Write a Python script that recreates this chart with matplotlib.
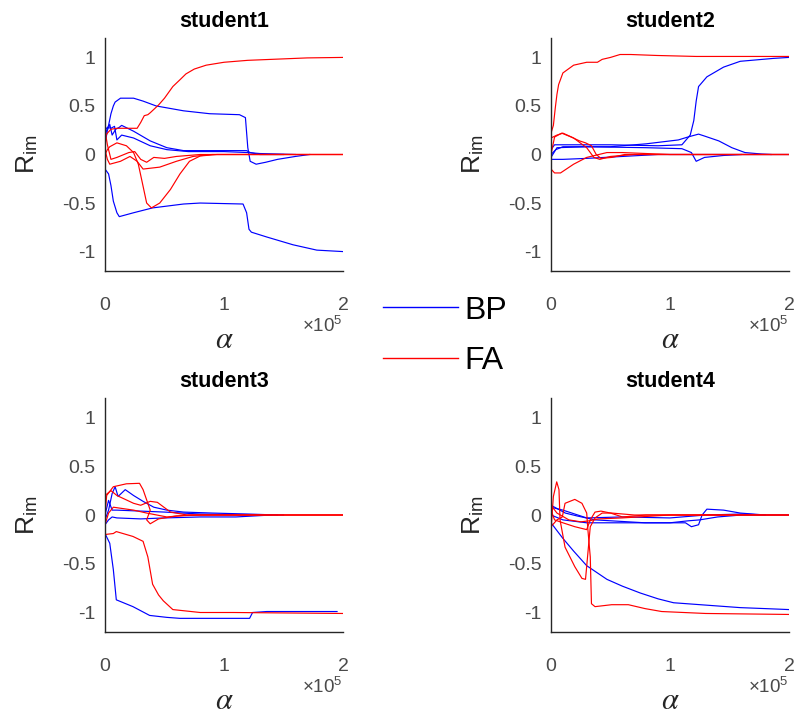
import matplotlib
matplotlib.use("Agg")
import matplotlib.pyplot as plt
from matplotlib.ticker import FuncFormatter, FixedLocator
from matplotlib.lines import Line2D

plt.rcParams['font.family'] = ['Liberation Sans', 'DejaVu Sans']
plt.rcParams['mathtext.fontset'] = 'stix'

ALPHA_UNIT = 1e5  # x values below are given in units of 1e5
titles = ['student1', 'student2', 'student3', 'student4']
legend_labels = ['BP', 'FA']
x_ticks = [0, 1, 2]
y_ticks = [-1, -0.5, 0, 0.5, 1]
y_tick_labels = ['-1', '-0.5', '0', '0.5', '1']

# ---------------- student1 ----------------
s1_bp_x = [
    [0, 0.03, 0.05, 0.07, 0.085, 0.13, 0.24, 0.32, 0.43, 0.66, 0.88, 1.13, 1.18, 1.2, 1.22, 1.27, 1.35, 1.45, 1.6, 1.72],
    [0, 0.03, 0.05, 0.07, 0.1, 0.12, 0.24, 0.4, 0.66, 0.8, 1.16, 1.19, 1.21, 1.23, 1.36, 1.58, 1.78, 2.0],
    [0, 0.02, 0.04, 0.06, 0.09, 0.12, 0.14, 0.24, 0.38, 0.52, 0.66, 0.9, 1.19, 1.22, 1.3, 1.5],
    [0, 0.02, 0.05, 0.08, 0.1, 0.14, 0.24, 0.38, 0.52, 0.7, 1.0, 1.2, 1.3, 1.6],
]
s1_bp_y = [
    [0.2, 0.3, 0.42, 0.5, 0.54, 0.58, 0.58, 0.55, 0.5, 0.45, 0.42, 0.41, 0.38, 0.07, -0.07, -0.1, -0.08, -0.05, -0.02, 0.0],
    [-0.15, -0.2, -0.32, -0.48, -0.6, -0.64, -0.6, -0.55, -0.51, -0.5, -0.51, -0.6, -0.77, -0.8, -0.85, -0.93, -0.985, -1.0],
    [0.1, 0.25, 0.31, 0.2, 0.26, 0.28, 0.3, 0.24, 0.14, 0.07, 0.04, 0.04, 0.04, 0.02, 0.0, 0.0],
    [0.25, 0.28, 0.27, 0.29, 0.15, 0.2, 0.17, 0.09, 0.05, 0.03, 0.03, 0.02, 0.01, 0.0],
]
s1_fa_x = [
    [0, 0.02, 0.05, 0.1, 0.2, 0.27, 0.3, 0.33, 0.36, 0.38, 0.45, 0.5, 0.57, 0.63, 0.68, 0.75, 0.85, 1.0, 1.2, 1.4, 1.7, 2.0],
    [0, 0.02, 0.04, 0.1, 0.18, 0.24, 0.28, 0.31, 0.35, 0.39, 0.46, 0.55, 0.63, 0.71, 0.8, 0.94, 2.0],
    [0, 0.02, 0.04, 0.13, 0.21, 0.27, 0.32, 0.46, 0.6, 0.74, 0.9, 2.0],
    [0, 0.02, 0.05, 0.1, 0.2, 0.25, 0.3, 0.35, 0.41, 0.5, 0.6, 0.8, 2.0],
]
s1_fa_y = [
    [0.18, 0.22, 0.26, 0.27, 0.27, 0.27, 0.33, 0.4, 0.41, 0.43, 0.51, 0.58, 0.7, 0.77, 0.83, 0.88, 0.92, 0.95, 0.97, 0.98, 0.995, 1.0],
    [0.0, 0.05, 0.08, 0.12, 0.09, 0.02, -0.1, -0.27, -0.5, -0.55, -0.5, -0.36, -0.2, -0.07, -0.015, 0.0, 0.0],
    [0.05, -0.05, -0.1, -0.07, -0.02, -0.07, -0.15, -0.13, -0.07, -0.02, 0.0, 0.0],
    [0.25, 0.1, -0.05, -0.03, 0.02, 0.03, -0.05, -0.08, -0.03, -0.04, -0.02, 0.0, 0.0],
]

# ---------------- student2 ----------------
s2_bp_x = [
    [0, 0.03, 0.1, 0.5, 0.9, 1.1, 1.17, 1.2, 1.22, 1.24, 1.31, 1.45, 1.59, 1.87, 2.0],
    [0, 0.04, 0.1, 0.5, 0.8, 1.07, 1.15, 1.24, 1.29, 1.41, 1.52, 1.63, 1.77, 1.85],
    [0, 0.05, 0.3, 0.8, 1.1, 1.18, 1.22, 1.29, 1.45, 1.6],
    [0, 0.1, 0.3, 0.6, 0.9, 2.0],
]
s2_bp_y = [
    [0.05, 0.1, 0.1, 0.1, 0.09, 0.1, 0.2, 0.35, 0.55, 0.7, 0.8, 0.9, 0.96, 0.99, 1.0],
    [0.0, 0.05, 0.08, 0.08, 0.11, 0.15, 0.18, 0.21, 0.19, 0.14, 0.07, 0.02, 0.005, 0.0],
    [-0.03, 0.07, 0.08, 0.07, 0.06, 0.02, -0.07, -0.03, -0.01, 0.0],
    [-0.05, -0.05, -0.04, -0.02, 0.0, 0.0],
]
s2_fa_x = [
    [0, 0.02, 0.036, 0.05, 0.064, 0.1, 0.19, 0.3, 0.39, 0.43, 0.5, 0.58, 0.67, 0.89, 1.22, 1.6, 2.0],
    [0, 0.03, 0.09, 0.17, 0.24, 0.29, 0.34, 0.38, 0.42, 0.51, 0.62, 0.8, 2.0],
    [0, 0.03, 0.08, 0.19, 0.3, 0.47, 0.6, 0.8, 1.0, 2.0],
    [0, 0.05, 0.1, 0.19, 0.3, 0.36, 0.41, 0.5, 0.7, 0.9, 2.0],
]
s2_fa_y = [
    [0.22, 0.3, 0.48, 0.62, 0.72, 0.84, 0.92, 0.95, 0.95, 0.98, 1.0, 1.03, 1.03, 1.02, 1.01, 1.01, 1.01],
    [0.0, 0.18, 0.22, 0.18, 0.14, 0.12, 0.09, 0.0, -0.04, -0.03, 0.0, 0.0, 0.0],
    [-0.15, -0.19, -0.19, -0.1, -0.03, 0.02, 0.02, 0.01, 0.0, 0.0],
    [0.17, 0.2, 0.22, 0.17, 0.07, -0.03, -0.05, -0.02, 0.0, 0.0, 0.0],
]

# ---------------- student3 ----------------
s3_bp_x = [
    [0, 0.04, 0.07, 0.095, 0.235, 0.375, 0.52, 0.63, 0.8, 1.215, 1.24, 1.36, 1.95],
    [0, 0.03, 0.06, 0.085, 0.11, 0.17, 0.24, 0.32, 0.41, 0.52, 0.66, 0.9, 1.2, 1.45],
    [0, 0.03, 0.06, 0.1, 0.3, 0.5, 0.8, 1.2, 1.5],
    [0, 0.03, 0.06, 0.1, 0.3, 0.5, 0.8, 1.1, 1.4],
]
s3_bp_y = [
    [-0.19, -0.29, -0.56, -0.87, -0.94, -1.03, -1.05, -1.06, -1.06, -1.06, -1.0, -0.99, -0.99],
    [-0.05, 0.05, 0.22, 0.29, 0.19, 0.26, 0.2, 0.14, 0.08, 0.05, 0.03, 0.02, 0.01, 0.0],
    [0.0, 0.15, 0.05, 0.05, 0.04, 0.03, 0.01, 0.0, 0.0],
    [-0.1, -0.05, -0.02, -0.03, -0.04, -0.03, -0.02, -0.02, 0.0],
]
s3_fa_x = [
    [0, 0.07, 0.095, 0.235, 0.32, 0.36, 0.4, 0.45, 0.49, 0.57, 0.8, 1.08, 2.0],
    [0, 0.014, 0.07, 0.18, 0.29, 0.32, 0.36, 0.38, 0.35, 0.38, 0.45, 0.6, 0.8, 2.0],
    [0, 0.05, 0.1, 0.24, 0.3, 0.38, 0.44, 0.55, 0.69, 1.0, 2.0],
    [0, 0.03, 0.07, 0.24, 0.35, 0.52, 0.7, 2.0],
]
s3_fa_y = [
    [-0.2, -0.19, -0.17, -0.22, -0.27, -0.43, -0.71, -0.82, -0.88, -0.97, -1.0, -1.0, -1.01],
    [0.0, 0.2, 0.29, 0.32, 0.325, 0.26, 0.12, 0.05, -0.05, -0.09, -0.04, -0.01, 0.0, 0.0],
    [0.2, 0.25, 0.2, 0.12, 0.1, 0.14, 0.13, 0.03, 0.0, 0.0, 0.0],
    [-0.1, 0.02, 0.08, 0.05, 0.02, -0.02, 0.0, 0.0],
]

# ---------------- student4 ----------------
s4_bp_x = [
    [0, 0.05, 0.1, 0.19, 0.3, 0.47, 0.6, 0.75, 0.9, 1.03, 1.31, 1.59, 1.8, 2.0],
    [0, 0.12, 0.22, 0.37, 0.51, 0.79, 1.13, 1.18, 1.24, 1.27, 1.31, 1.45, 1.59, 1.8, 2.0],
    [0, 0.1, 0.3, 0.6, 1.0, 1.15, 1.25, 1.4, 1.6, 1.8],
    [0, 0.1, 0.3, 0.6, 1.0, 1.3, 1.6, 1.8],
]
s4_bp_y = [
    [-0.08, -0.16, -0.24, -0.37, -0.52, -0.66, -0.73, -0.8, -0.86, -0.9, -0.925, -0.95, -0.96, -0.97],
    [0.1, 0.02, -0.01, -0.05, -0.06, -0.08, -0.08, -0.12, -0.1, 0.0, 0.06, 0.05, 0.02, 0.0, 0.0],
    [0.0, -0.05, -0.08, -0.08, -0.08, -0.06, -0.05, -0.02, 0.0, 0.0],
    [0.08, 0.05, -0.03, -0.02, -0.03, 0.0, 0.01, 0.0],
]
s4_fa_x = [
    [0, 0.02, 0.048, 0.067, 0.076, 0.118, 0.2, 0.26, 0.29, 0.31, 0.33, 0.37, 0.43, 0.51, 0.7, 2.0],
    [0, 0.05, 0.095, 0.118, 0.2, 0.26, 0.3, 0.31, 0.33, 0.34, 0.37, 0.51, 0.65, 0.79, 0.93, 1.3, 2.0],
    [0, 0.03, 0.1, 0.2, 0.3, 0.33, 0.37, 0.42, 0.5, 0.6, 0.8, 2.0],
    [0, 0.05, 0.15, 0.25, 0.32, 0.4, 0.6, 1.0, 2.0],
]
s4_fa_y = [
    [-0.15, 0.19, 0.34, 0.26, -0.05, -0.33, -0.53, -0.65, -0.66, -0.39, -0.12, -0.03, 0.02, 0.02, 0.0, 0.0],
    [-0.12, -0.05, -0.02, 0.12, 0.16, 0.12, 0.02, -0.15, -0.43, -0.91, -0.94, -0.92, -0.92, -0.96, -0.99, -1.01, -1.02],
    [0.05, -0.05, -0.08, -0.12, -0.15, -0.05, 0.03, 0.04, 0.02, -0.02, 0.0, 0.0],
    [0.1, 0.02, -0.05, -0.07, -0.06, -0.04, -0.03, 0.0, 0.0],
]

panels = [
    (s1_bp_x, s1_bp_y, s1_fa_x, s1_fa_y),
    (s2_bp_x, s2_bp_y, s2_fa_x, s2_fa_y),
    (s3_bp_x, s3_bp_y, s3_fa_x, s3_fa_y),
    (s4_bp_x, s4_bp_y, s4_fa_x, s4_fa_y),
]

W, H = 796, 715
fig = plt.figure(figsize=(W / 100, H / 100), dpi=100)
fig.patch.set_facecolor('white')

# axes rectangles in pixel coordinates (left, top, right, bottom)
rects_px = [(105, 38, 343, 271), (551, 38, 789, 271), (105, 398, 343, 632), (551, 398, 789, 632)]

BLUE = (0, 0, 1)
RED = (1, 0, 0)
AXC = '#262626'
TICKC = '#4a4a4a'

for i, (bx, by, fx, fy) in enumerate(panels):
    l, t, r, b = rects_px[i]
    ax = fig.add_axes([l / W, 1 - b / H, (r - l) / W, (b - t) / H])
    for xs, ys in zip(bx, by):
        ax.plot([v * ALPHA_UNIT for v in xs], ys, color=BLUE, lw=0.85)
    for xs, ys in zip(fx, fy):
        ax.plot([v * ALPHA_UNIT for v in xs], ys, color=RED, lw=0.85)
    ax.set_xlim(0, 2 * ALPHA_UNIT)
    ax.set_ylim(-1.2, 1.2)
    ax.xaxis.set_major_locator(FixedLocator([v * ALPHA_UNIT for v in x_ticks]))
    ax.xaxis.set_major_formatter(FuncFormatter(lambda v, p: f'{v / ALPHA_UNIT:g}'))
    ax.set_yticks(y_ticks)
    ax.set_yticklabels(y_tick_labels)
    for s in ['top', 'right']:
        ax.spines[s].set_visible(False)
    for s in ['left', 'bottom']:
        ax.spines[s].set_color(AXC)
        ax.spines[s].set_linewidth(1.0)
    ax.tick_params(axis='both', length=0, labelsize=14, labelcolor=TICKC)
    ax.tick_params(axis='x', pad=19)
    ax.tick_params(axis='y', pad=7)
    ax.set_title(titles[i], fontsize=15.5, fontweight='bold', pad=8, color='black')
    ax.set_ylabel(r'R$_\mathregular{im}$', fontsize=19, color=AXC)
    ax.yaxis.set_label_coords(-0.275, 0.5)
    ax.set_xlabel(r'$\alpha$', fontsize=22, color=AXC, va='center')
    ax.xaxis.set_label_coords(0.5, -0.295)
    ax.text(1.0, -0.235, r'$\mathregular{\times10^5}$', transform=ax.transAxes,
            ha='right', va='center', fontsize=13.5, color=TICKC)

handles = [Line2D([], [], color=BLUE, lw=1.0), Line2D([], [], color=RED, lw=1.0)]
fig.legend(handles, legend_labels, loc='center', bbox_to_anchor=(445 / W, 1 - 336 / H),
           frameon=False, fontsize=23, handlelength=2.35, handletextpad=0.2,
           labelspacing=0.65, borderpad=0)

fig.savefig('out.png', dpi=100, facecolor='white')
